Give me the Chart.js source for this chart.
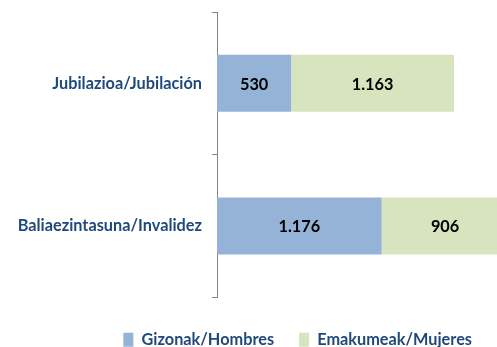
<!DOCTYPE html>
<html>
<head>
<meta charset="utf-8">
<script src="https://cdn.jsdelivr.net/npm/chart.js@4/dist/chart.umd.min.js"></script>
<style>
  html, body { margin: 0; padding: 0; background: #fff; }
  #wrap { width: 497px; height: 347px; }
</style>
</head>
<body>
<div id="wrap"><canvas id="chart1"></canvas></div>
<script>
// Pension categories and counts by sex
const categories = ['Jubilazioa/Jubilación', 'Baliaezintasuna/Invalidez'];
const men = [530, 1176];
const women = [1163, 906];
const seriesNames = ['Gizonak/Hombres', 'Emakumeak/Mujeres'];

const FONT = 'Lato, sans-serif';
const FSIZE = 16.3;

// 1176 -> "1.176"
function fmt(v) {
  return String(v).replace(/\B(?=(\d{3})+(?!\d))/g, '.');
}

// Value labels in the middle of each bar segment
const barLabels = {
  id: 'barLabels',
  afterDatasetsDraw(chart) {
    const ctx = chart.ctx;
    ctx.save();
    ctx.font = 'bold ' + FSIZE + 'px ' + FONT;
    ctx.fillStyle = '#000';
    ctx.textAlign = 'center';
    ctx.textBaseline = 'middle';
    chart.data.datasets.forEach((ds, i) => {
      chart.getDatasetMeta(i).data.forEach((bar, j) => {
        const x = (bar.x + bar.base) / 2;
        ctx.fillText(fmt(ds.data[j]), x, bar.y + 1);
      });
    });
    ctx.restore();
  }
};

var ctx = document.getElementById('chart1').getContext('2d');
var chart = new Chart(ctx, {
  type: 'bar',
  data: {
    labels: categories,
    datasets: [
      {
        label: seriesNames[0],
        data: men,
        backgroundColor: '#95b3d7',
        categoryPercentage: 0.8,
        barPercentage: 0.5,
      },
      {
        label: seriesNames[1],
        data: women,
        backgroundColor: '#d7e4bd',
        categoryPercentage: 0.8,
        barPercentage: 0.5,
      },
    ],
  },
  options: {
    indexAxis: 'y',
    responsive: true,
    maintainAspectRatio: false,
    animation: false,
    layout: {
      padding: { top: 12, left: 0, right: 0, bottom: -11 },
    },
    scales: {
      x: {
        stacked: true,
        min: 0,
        max: 2000,
        grid: { display: false },
        border: { display: false },
        ticks: { display: false },
        afterFit: s => { s.height = 9.5; },
      },
      y: {
        stacked: true,
        grid: {
          display: true,
          drawOnChartArea: false,
          tickLength: 5,
          color: '#868686',
        },
        border: { color: '#868686', width: 1 },
        ticks: {
          padding: 10,
          color: '#1f497d',
          font: { family: FONT, size: FSIZE, weight: 'bold' },
        },
        afterFit: s => {
          s.width = 217;
          s.paddingTop = 0;
          s.paddingBottom = 0;
        },
      },
    },
    plugins: {
      legend: {
        position: 'bottom',
        align: 'end',
        labels: {
          boxWidth: 10,
          boxHeight: 14,
          padding: 25,
          color: '#1f497d',
          font: { family: FONT, size: FSIZE, weight: 'bold' },
        },
      },
      tooltip: { enabled: false },
    },
  },
  plugins: [barLabels],
});
</script>
</body>
</html>
